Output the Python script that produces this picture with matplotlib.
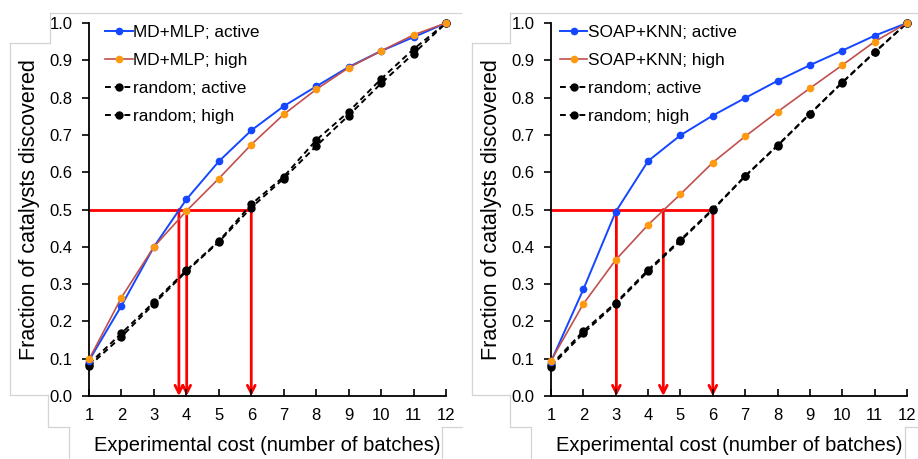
import matplotlib
matplotlib.use("Agg")
import matplotlib.pyplot as plt
from matplotlib.lines import Line2D

plt.rcParams['font.family'] = ['Liberation Sans', 'DejaVu Sans']

batches = [1, 2, 3, 4, 5, 6, 7, 8, 9, 10, 11, 12]
tick_labels_y = ['0.0', '0.1', '0.2', '0.3', '0.4', '0.5', '0.6', '0.7', '0.8', '0.9', '1.0']

mlp_active = [0.095, 0.242, 0.400, 0.527, 0.629, 0.712, 0.777, 0.830, 0.882, 0.925, 0.962, 1.0]
mlp_high = [0.098, 0.264, 0.400, 0.496, 0.583, 0.674, 0.755, 0.822, 0.880, 0.925, 0.968, 1.0]
left_rand_active = [0.080, 0.159, 0.247, 0.334, 0.413, 0.505, 0.583, 0.670, 0.752, 0.838, 0.918, 1.0]
left_rand_high = [0.086, 0.168, 0.252, 0.337, 0.415, 0.514, 0.588, 0.686, 0.762, 0.850, 0.930, 1.0]
left_cross = [3.77, 4.01, 6.0]

knn_active = [0.092, 0.286, 0.494, 0.630, 0.699, 0.752, 0.799, 0.845, 0.887, 0.926, 0.966, 1.0]
knn_high = [0.095, 0.247, 0.365, 0.459, 0.541, 0.626, 0.696, 0.762, 0.825, 0.887, 0.950, 1.0]
right_rand_active = [0.079, 0.168, 0.247, 0.334, 0.416, 0.499, 0.589, 0.671, 0.756, 0.840, 0.921, 1.0]
right_rand_high = [0.083, 0.174, 0.250, 0.338, 0.419, 0.501, 0.590, 0.672, 0.757, 0.841, 0.922, 1.0]
right_cross = [3.02, 4.47, 6.0]

threshold = 0.5

BLUE = '#1447ff'
ORANGE_LINE = '#c0504d'
ORANGE_MK = '#ff9a10'
RED = '#ff0000'

W, H = 918, 459
fig = plt.figure(figsize=(W / 100, H / 100), dpi=100)


def px_axes(x0, y0, x1, y1):
    return fig.add_axes([x0 / W, 1 - y1 / H, (x1 - x0) / W, (y1 - y0) / H])


def draw_panel(ax, name, act, high, r_act, r_high, cross, leg_x):
    for xc in cross:
        ax.annotate('', xy=(xc, 0), xytext=(xc, threshold),
                    arrowprops=dict(arrowstyle='->,head_length=0.55,head_width=0.28',
                                    color=RED, lw=2, shrinkA=0, shrinkB=0),
                    zorder=1.5)
    ax.plot([batches[0], max(cross)], [threshold, threshold], color=RED, lw=2, zorder=1.5,
            solid_capstyle='butt')
    ax.plot(batches, act, color=BLUE, lw=1.4, marker='o', ms=4.5, mfc=BLUE, mec=BLUE,
            label=f'{name}; active', clip_on=False, zorder=3)
    ax.plot(batches, high, color=ORANGE_LINE, lw=1.2, marker='o', ms=4.5, mfc=ORANGE_MK,
            mec=ORANGE_MK, label=f'{name}; high', clip_on=False, zorder=3)
    ax.plot(batches, r_act, color='black', lw=1.4, ls=(0, (3, 2)), marker='o', ms=5,
            label='random; active', clip_on=False, zorder=2.5)
    ax.plot(batches, r_high, color='black', lw=1.4, ls=(0, (3, 2)), marker='o', ms=5,
            label='random; high', clip_on=False, zorder=2.5)

    ax.set_xlim(1, 12)
    ax.set_ylim(0, 1)
    ax.set_xticks(batches)
    ax.set_xticklabels([str(b) for b in batches])
    ax.set_yticks([i / 10 for i in range(11)])
    ax.set_yticklabels(tick_labels_y)
    for s in ['top', 'right']:
        ax.spines[s].set_visible(False)
    for s in ['left', 'bottom']:
        ax.spines[s].set_linewidth(1.3)
    ax.tick_params(axis='x', direction='in', length=5, width=1.2, pad=9, labelsize=12)
    ax.tick_params(axis='y', direction='out', length=5, width=1.2, pad=7, labelsize=12)
    ax.set_xlabel('Experimental cost (number of batches)', fontsize=14.5)
    ax.xaxis.set_label_coords(0.5, -0.133)
    ax.xaxis.label.set_va('center')
    ax.set_ylabel('Fraction of catalysts discovered', fontsize=15.5)
    ax.yaxis.set_label_coords(-0.168, 0.5)
    ax.yaxis.label.set_va('center')
    ax.legend(loc='upper left', bbox_to_anchor=(leg_x, 0.995), frameon=False,
              fontsize=12.4, handlelength=1.6, handletextpad=0.05, labelspacing=0.75,
              borderaxespad=0, borderpad=0)


ax1 = px_axes(89, 23, 446, 396)
draw_panel(ax1, 'MD+MLP', mlp_active, mlp_high, left_rand_active, left_rand_high, left_cross, 0.045)
ax2 = px_axes(551, 23, 907, 396)
draw_panel(ax2, 'SOAP+KNN', knn_active, knn_high, right_rand_active, right_rand_high, right_cross, 0.025)

# faint border artifacts of the original screenshot
GRAY = '#d4d4d4'
segments = [
    [(50, 13), (461, 13)], [(50, 13), (50, 43)], [(10, 43), (50, 43)], [(10, 43), (10, 395)],
    [(10, 395), (48, 395)], [(48, 395), (48, 427)], [(48, 427), (69, 427)], [(69, 427), (69, 459)],
    [(442, 427), (462, 427)], [(442, 427), (442, 459)],
    [(510, 13), (918, 13)], [(510, 13), (510, 43)], [(472, 43), (510, 43)], [(472, 43), (472, 395)],
    [(472, 395), (510, 395)], [(510, 395), (510, 427)], [(510, 427), (531, 427)], [(531, 427), (531, 459)],
    [(905, 427), (918, 427)], [(905, 427), (905, 459)],
]
for (xa, ya), (xb, yb) in segments:
    fig.add_artist(Line2D([xa / W, xb / W], [1 - ya / H, 1 - yb / H], color=GRAY, lw=0.9,
                          transform=fig.transFigure, zorder=0))

fig.savefig('out.png', dpi=100)
